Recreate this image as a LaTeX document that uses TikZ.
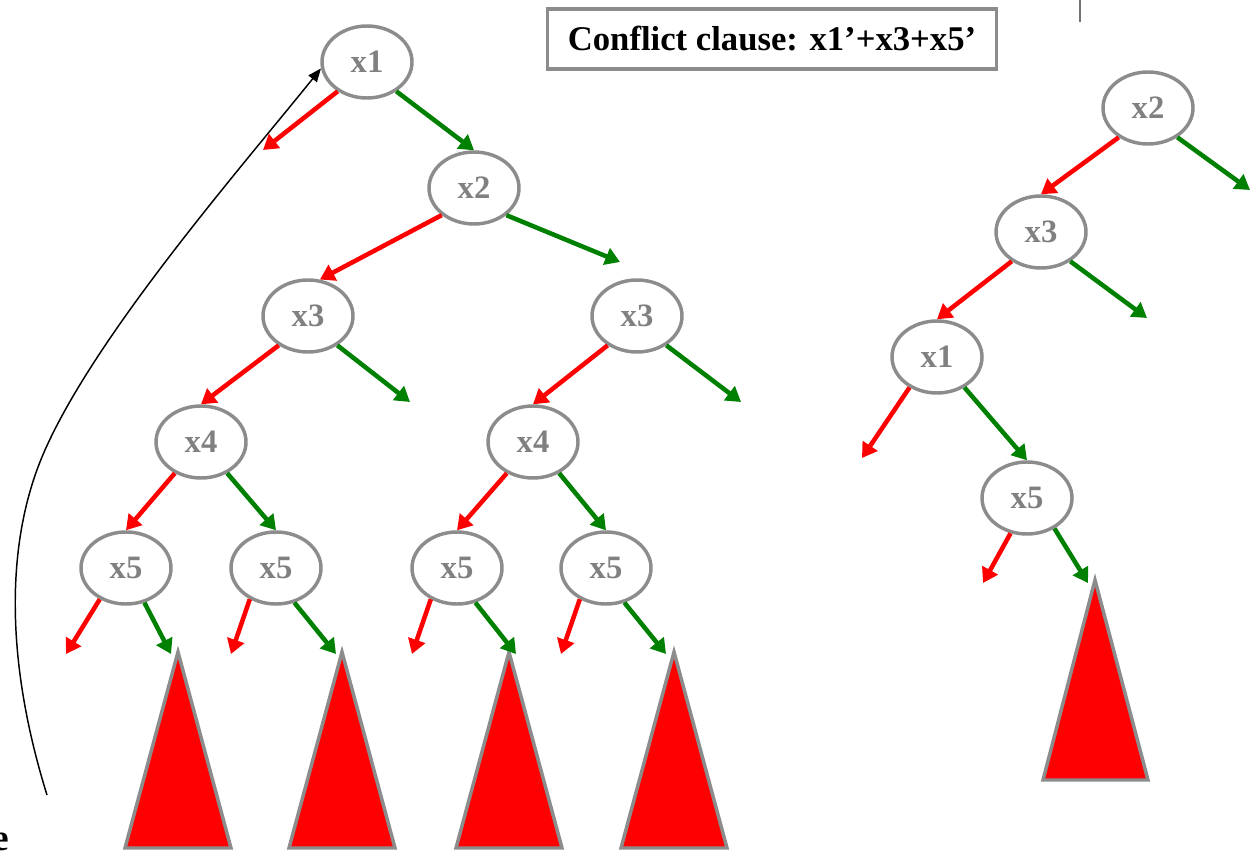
\documentclass[tikz,border=0pt]{standalone}
\usepackage{fontspec}
\setmainfont{Liberation Serif}
\usetikzlibrary{arrows.meta,shapes.geometric}
\definecolor{nodegray}{RGB}{140,140,140}
\definecolor{txtgray}{RGB}{128,128,128}
\definecolor{tred}{RGB}{255,0,0}
\definecolor{tgreen}{RGB}{0,128,0}
\begin{document}
\begin{tikzpicture}[x=0.75pt,y=-0.75pt,
  var/.style={ellipse, draw=nodegray, line width=2.6pt, minimum width=67.5pt, minimum height=54pt, inner sep=0pt, font=\fontsize{24.5}{26}\selectfont\bfseries, text=txtgray},
  negarr/.style={draw=tred, line width=3.4pt, -{Triangle[length=11pt,width=13pt]}},
  posarr/.style={draw=tgreen, line width=3.4pt, -{Triangle[length=11pt,width=13pt]}},
  subtree/.style={fill=tred, draw=nodegray, line width=2.6pt, line join=miter},
  clausebox/.style={draw=nodegray, line width=2.6pt, minimum width=337pt, minimum height=45pt, inner sep=0pt, font=\fontsize{26}{28}\selectfont\bfseries, text=black},
  backarc/.style={draw=black, line width=1.1pt, -{Triangle[length=10pt,width=8pt]}}
]
\useasboundingbox (0,0) rectangle (1255,852);

% conflict clause
\node[clausebox] (cc) at (772,39) {Conflict clause: x1’+x3+x5’};
\coordinate (vl1) at (1080,0);
\coordinate (vl2) at (1080,22);
\draw[line width=1.6pt, draw=black!55] (vl1) -- (vl2);

% left tree nodes
\node[var] (a1) at (367,62) {x1};
\node[var] (a2) at (474,188) {x2};
\node[var] (a3l) at (308,316) {x3};
\node[var] (a3r) at (637,316) {x3};
\node[var] (a4l) at (201,442) {x4};
\node[var] (a4r) at (533,442) {x4};
\node[var] (a5a) at (126,568) {x5};
\node[var] (a5b) at (276,568) {x5};
\node[var] (a5c) at (457,568) {x5};
\node[var] (a5d) at (606,568) {x5};

% right tree nodes
\node[var] (b2) at (1148,108) {x2};
\node[var] (b3) at (1041,232) {x3};
\node[var] (b1) at (937,357) {x1};
\node[var] (b5) at (1027,498) {x5};

% free ends
\coordinate (e1) at (263,150);
\coordinate (e2) at (620,262);
\coordinate (e3) at (410,402);
\coordinate (e4) at (741,402);
\coordinate (r5a) at (66,654);
\coordinate (r5b) at (231,654);
\coordinate (r5c) at (412,654);
\coordinate (r5d) at (561,654);
\coordinate (g5a) at (171,654);
\coordinate (g5b) at (336,654);
\coordinate (g5c) at (516,654);
\coordinate (g5d) at (666,654);
\coordinate (f2) at (1250,190);
\coordinate (f3) at (1147,318);
\coordinate (f1) at (862,458);
\coordinate (f5r) at (983,583);
\coordinate (f5g) at (1088,583);

% subtrees
\coordinate (t1) at (178,652);
\coordinate (t2) at (342,652);
\coordinate (t3) at (509,652);
\coordinate (t4) at (674,652);
\coordinate (t5) at (1095,580);
\draw[subtree] (t1) -- ++(-53,196) -- ++(106,0) -- cycle;
\draw[subtree] (t2) -- ++(-53,196) -- ++(106,0) -- cycle;
\draw[subtree] (t3) -- ++(-53,196) -- ++(106,0) -- cycle;
\draw[subtree] (t4) -- ++(-53,196) -- ++(106,0) -- cycle;
\draw[subtree] (t5) -- ++(-52,200) -- ++(105,0) -- cycle;

% left tree edges
\draw[negarr] (a1.-135) -- (e1);
\draw[posarr] (a1.-45) -- (a2.north);
\draw[negarr] (a2.-140) -- (a3l.72);
\draw[posarr] (a2.-40) -- (e2);
\draw[negarr] (a3l.-135) -- (a4l.north);
\draw[posarr] (a3l.-45) -- (e3);
\draw[negarr] (a3r.-135) -- (a4r.north);
\draw[posarr] (a3r.-45) -- (e4);
\draw[negarr] (a4l.-130) -- (a5a.north);
\draw[posarr] (a4l.-50) -- (a5b.north);
\draw[negarr] (a4r.-130) -- (a5c.north);
\draw[posarr] (a4r.-50) -- (a5d.north);
\draw[negarr] (a5a.-130) -- (r5a);
\draw[posarr] (a5a.-62) -- (g5a);
\draw[negarr] (a5b.-130) -- (r5b);
\draw[posarr] (a5b.-62) -- (g5b);
\draw[negarr] (a5c.-130) -- (r5c);
\draw[posarr] (a5c.-62) -- (g5c);
\draw[negarr] (a5d.-130) -- (r5d);
\draw[posarr] (a5d.-62) -- (g5d);

% right tree edges
\draw[negarr] (b2.-135) -- (b3.north);
\draw[posarr] (b2.-45) -- (f2);
\draw[negarr] (b3.-135) -- (b1.north);
\draw[posarr] (b3.-45) -- (f3);
\draw[negarr] (b1.-132) -- (f1);
\draw[posarr] (b1.-48) -- (b5.north);
\draw[negarr] (b5.-115) -- (f5r);
\draw[posarr] (b5.-48) -- (f5g);

% backtrack arc
\coordinate (s) at (47,795);
\coordinate (m) at (45,450);
\draw[backarc] (s) .. controls (5,660) and (5,540) .. (m) .. controls (97,333) and (240,169) .. (a1.188);

% cut-off letter
\node[anchor=base east, inner sep=0pt, font=\fontsize{28}{30}\selectfont\bfseries] (lbl) at (9,850) {e};
\end{tikzpicture}
\end{document}
